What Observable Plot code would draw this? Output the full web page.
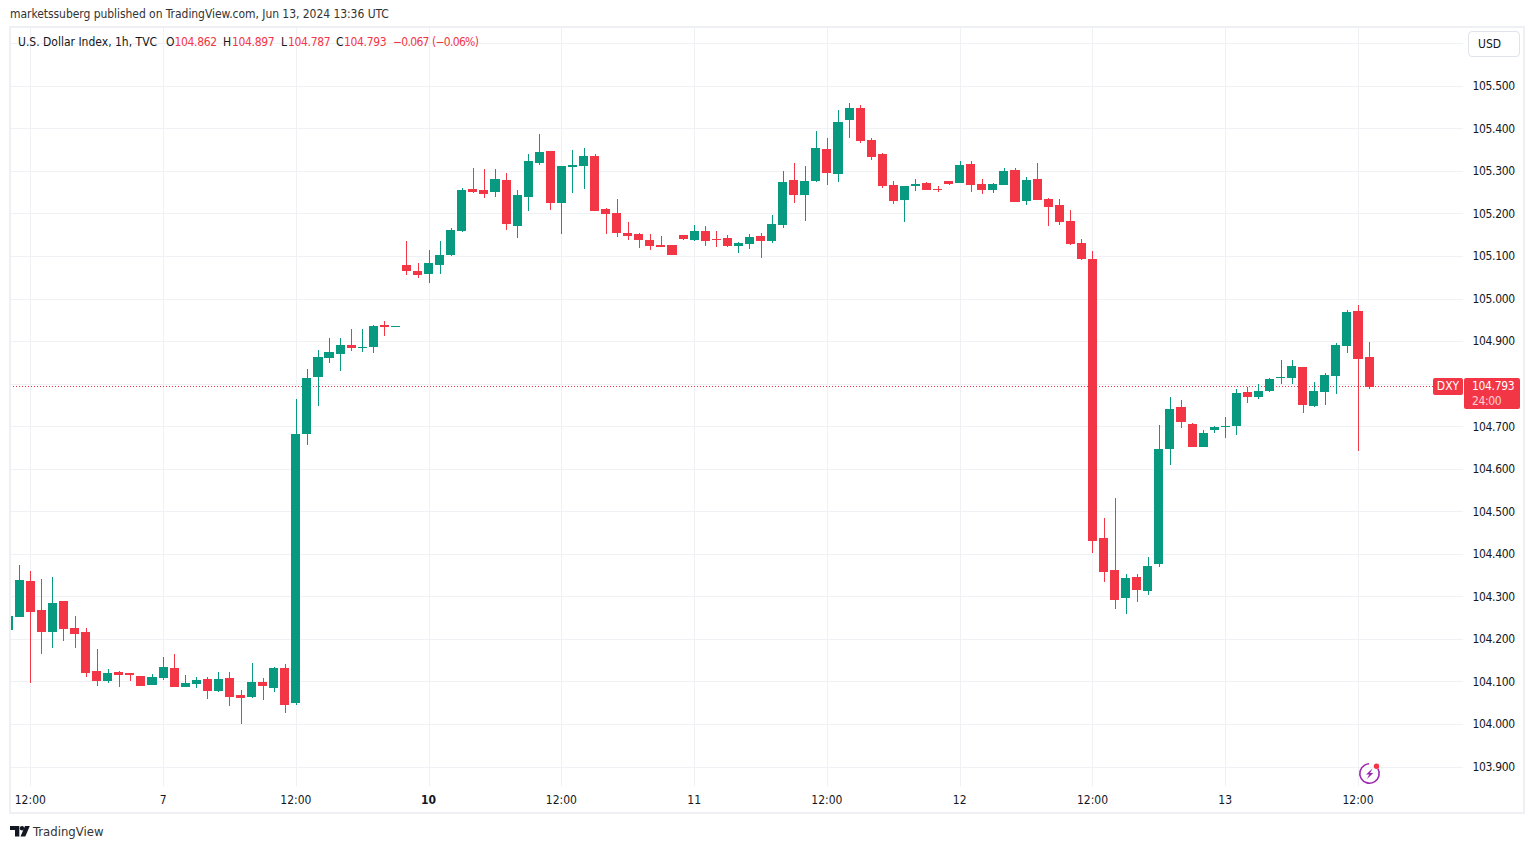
<!DOCTYPE html>
<html>
<head>
<meta charset="utf-8">
<script src="https://cdn.jsdelivr.net/npm/d3@7"></script>
<script src="https://cdn.jsdelivr.net/npm/@observablehq/plot@0.6"></script>
<style>
html,body{margin:0;padding:0;background:#fff;overflow:hidden}
body{font-family:"DejaVu Sans Condensed","DejaVu Sans",sans-serif;font-size:12px;color:#131722;width:1534px;height:849px;position:relative}
#head{height:27px;line-height:29px;padding-left:10px;box-sizing:border-box;color:#333;white-space:nowrap;letter-spacing:-.05px}
#frame{position:absolute;left:9px;top:26px;width:1516px;height:788px;box-sizing:border-box;border:2px solid #eff0f4;pointer-events:none}
.a{position:absolute;white-space:nowrap;line-height:14px;top:35px}
.n{letter-spacing:-.35px}
.m{letter-spacing:-.7px}
.r{color:#f23645}
#usd{position:absolute;left:1468px;top:31px;width:52px;height:26px;box-sizing:border-box;border:1px solid #e0e3eb;border-radius:4px;padding-left:9px;line-height:25px;background:#fff}
.box{position:absolute;background:#f23645;color:#fff;border-radius:2px;white-space:nowrap}
.row{position:absolute;left:1472px;height:14px;line-height:14px;color:#fff;letter-spacing:-.35px;white-space:nowrap}
#foot{position:absolute;left:33px;top:824px;font-size:13px;line-height:15px;color:#333}
g[aria-label="y-axis tick label"]{letter-spacing:-.35px}
</style>
</head>
<body>
<div id="head">marketssuberg published on TradingView.com, Jun 13, 2024 13:36 UTC</div>
<div id="chart"></div>
<div id="frame"></div>
<div class="a" style="left:18px">U.S. Dollar Index, 1h, TVC</div>
<div class="a" style="left:166px">O</div><div class="a r n" style="left:174.5px">104.862</div>
<div class="a" style="left:223px">H</div><div class="a r n" style="left:232px">104.897</div>
<div class="a" style="left:281px">L</div><div class="a r n" style="left:288px">104.787</div>
<div class="a" style="left:336px">C</div><div class="a r n" style="left:344px">104.793</div>
<div class="a r m" style="left:393px">−0.067</div><div class="a r m" style="left:432px">(−0.06%)</div>
<div id="usd">USD</div>
<div class="box" style="left:1433px;top:378px;width:30px;height:17px;line-height:17px;text-align:center">DXY</div>
<div class="box" style="left:1464px;top:378px;width:56px;height:31px"></div>
<div class="row" style="top:379px">104.793</div>
<div class="row" style="top:394px;opacity:.75">24:00</div>
<svg style="position:absolute;left:1356px;top:760px" width="28" height="28" viewBox="0 0 28 28">
<circle cx="13.5" cy="13.5" r="9.7" fill="none" stroke="#9c27b0" stroke-width="1.6" stroke-dasharray="50 11" transform="rotate(-30 13.5 13.5)"/>
<path d="M16.5 8.5 10 14.5h3.2l-2.2 4.5 6.3-6h-3.2z" fill="#9c27b0"/>
<circle cx="20.5" cy="6.3" r="2.7" fill="#f23645"/>
</svg>
<svg style="position:absolute;left:10px;top:826px" width="20" height="11" viewBox="0 0 20 11">
<path d="M0 0h9.3v10.5H5V4H0z" fill="#131722"/><circle cx="12" cy="2.3" r="2.2" fill="#131722"/><path d="M15 0h4.8L15.3 10.5h-4.8z" fill="#131722"/>
</svg>
<div id="foot">TradingView</div>
<script>
const open = [104.221,104.251,104.336,104.268,104.216,104.289,104.226,104.216,104.125,104.101,104.122,104.120,104.113,104.092,104.108,104.132,104.087,104.094,104.106,104.078,104.108,104.068,104.064,104.099,104.085,104.132,
104.050,104.682,104.816,104.860,104.870,104.891,104.884,104.886,104.938,104.933,105.079,105.065,105.058,105.079,105.102,105.159,105.257,105.255,105.250,105.279,105.170,105.239,105.318,105.347,105.225,105.309,105.311,105.335,105.210,105.201,
105.154,105.152,105.138,105.126,105.126,105.149,105.138,105.159,105.140,105.142,105.124,105.128,105.147,105.135,105.173,105.279,105.243,105.276,105.351,105.293,105.420,105.448,105.373,105.340,105.267,
105.232,105.264,105.271,105.257,105.276,105.271,105.316,105.269,105.255,105.267,105.302,105.229,105.281,105.234,105.220,105.182,105.131,105.093,
104.437,104.362,104.296,104.346,104.313,104.376,104.646,104.745,104.705,104.651,104.691,104.698,104.700,104.780,104.769,104.783,104.813,104.813,104.839,104.747,104.780,104.818,104.888,104.971,104.862];
const high = [104.254,104.374,104.360,104.341,104.345,104.289,104.254,104.226,104.176,104.129,104.125,104.120,104.113,104.118,104.158,104.165,104.115,104.111,104.111,104.122,104.122,104.080,104.143,104.108,104.134,104.141,
104.764,104.835,104.879,104.907,104.907,104.929,104.929,104.938,104.947,104.936,105.135,105.084,105.114,105.135,105.166,105.260,105.307,105.304,105.304,105.295,105.255,105.340,105.387,105.347,105.311,105.349,105.354,105.340,105.213,105.234,
105.180,105.154,105.152,105.147,105.126,105.149,105.173,105.170,105.159,105.149,105.133,105.152,105.154,105.196,105.300,105.319,105.311,105.394,105.377,105.443,105.459,105.455,105.377,105.342,105.276,
105.264,105.281,105.274,105.264,105.276,105.323,105.323,105.281,105.271,105.307,105.307,105.286,105.318,105.236,105.234,105.208,105.140,105.112,
104.484,104.531,104.353,104.353,104.393,104.703,104.768,104.761,104.707,104.691,104.700,104.722,104.787,104.792,104.799,104.813,104.855,104.855,104.839,104.804,104.825,104.895,104.973,104.985,104.897];
const low = [104.221,104.251,104.097,104.165,104.179,104.195,104.179,104.111,104.089,104.096,104.087,104.101,104.089,104.092,104.103,104.087,104.087,104.085,104.059,104.075,104.042,104.000,104.061,104.056,104.075,104.026,
104.045,104.656,104.748,104.849,104.830,104.877,104.875,104.872,104.912,104.933,105.055,105.048,105.037,105.058,105.100,105.156,105.248,105.236,105.239,105.161,105.142,105.206,105.314,105.208,105.152,105.248,105.257,105.206,105.152,105.145,
105.138,105.119,105.114,105.121,105.102,105.138,105.135,105.124,105.121,105.121,105.107,105.116,105.095,105.131,105.166,105.225,105.182,105.274,105.267,105.274,105.377,105.366,105.326,105.260,105.222,
105.180,105.253,105.255,105.250,105.267,105.271,105.250,105.246,105.248,105.267,105.227,105.220,105.232,105.170,105.173,105.126,105.091,104.402,
104.334,104.270,104.259,104.287,104.303,104.369,104.609,104.696,104.651,104.651,104.684,104.672,104.679,104.755,104.764,104.780,104.799,104.799,104.731,104.745,104.750,104.776,104.872,104.642,104.787];
const close = [104.254,104.338,104.263,104.216,104.284,104.223,104.212,104.120,104.101,104.120,104.115,104.115,104.089,104.111,104.134,104.087,104.096,104.104,104.078,104.106,104.064,104.061,104.099,104.089,104.132,104.045,
104.682,104.813,104.863,104.875,104.891,104.884,104.886,104.936,104.933,104.936,105.065,105.055,105.084,105.102,105.161,105.255,105.250,105.246,105.281,105.175,105.243,105.323,105.344,105.225,105.311,105.314,105.335,105.206,105.199,105.154,
105.147,105.138,105.124,105.121,105.102,105.140,105.159,105.135,105.138,105.124,105.131,105.145,105.135,105.175,105.274,105.243,105.276,105.354,105.295,105.415,105.448,105.370,105.333,105.264,105.229,
105.264,105.269,105.255,105.255,105.269,105.314,105.267,105.255,105.269,105.300,105.227,105.279,105.232,105.215,105.180,105.128,105.093,104.430,
104.357,104.292,104.343,104.315,104.371,104.646,104.740,104.710,104.651,104.684,104.698,104.700,104.778,104.769,104.783,104.811,104.815,104.841,104.750,104.783,104.820,104.891,104.968,104.858,104.793];
const firstBar = -2;
const priceTicks = [103.9,104.0,104.1,104.2,104.3,104.4,104.5,104.6,104.7,104.8,104.9,105.0,105.1,105.2,105.3,105.4,105.5];
const priceGrid = [...priceTicks, 105.6];
const timeTicks = [0,12,24,36,48,60,72,84,96,108,120];
const timeLabels = ["12:00","7","12:00","10","12:00","11","12:00","12","12:00","13","12:00"];
const boldTick = [36];
const lastClose = 104.793;
const UP = "#089981", DOWN = "#f23645";

const bars = open.map((o,k)=>({i:firstBar+k,o,h:high[k],l:low[k],c:close[k],col:close[k]>=o?UP:DOWN}));
const labelOf = d => timeLabels[timeTicks.indexOf(d)];
const chart = Plot.plot({
  width:1534,height:786,
  marginLeft:10,marginRight:71,marginTop:0,marginBottom:27,
  style:{fontFamily:'"DejaVu Sans Condensed","DejaVu Sans",sans-serif',fontSize:"12px",color:"#131722",background:"#fff"},
  x:{type:"linear",domain:[-1.835,129.49],axis:null},
  y:{type:"linear",domain:[103.8543,105.6381],axis:null},
  marks:[
    Plot.ruleY(priceGrid,{stroke:"#f0f1f4",strokeWidth:1,shapeRendering:"crispEdges"}),
    Plot.ruleX(timeTicks,{stroke:"#f0f1f4",strokeWidth:1,shapeRendering:"crispEdges"}),
    Plot.ruleY([lastClose],{stroke:DOWN,strokeWidth:1,strokeDasharray:"1,2",dy:-0.6}),
    Plot.ruleX(bars,{x:"i",y1:"l",y2:"h",stroke:"col",strokeWidth:1,clip:true,shapeRendering:"crispEdges"}),
    Plot.rect(bars,{x1:d=>d.i-0.41,x2:d=>d.i+0.41,y1:"o",y2:"c",fill:"col",clip:true,shapeRendering:"crispEdges"}),
    Plot.axisY(priceTicks,{anchor:"right",tickSize:0,tickPadding:9,label:null,tickFormat:d3.format(".3f")}),
    Plot.axisX(timeTicks.filter(t=>!boldTick.includes(t)),{anchor:"bottom",tickSize:0,tickPadding:9,dx:-0.5,label:null,tickFormat:labelOf}),
    Plot.axisX(boldTick,{anchor:"bottom",tickSize:0,tickPadding:9,dx:-0.5,label:null,tickFormat:labelOf,fontWeight:"bold"})
  ]
});
document.getElementById("chart").appendChild(chart);
</script>
</body>
</html>
